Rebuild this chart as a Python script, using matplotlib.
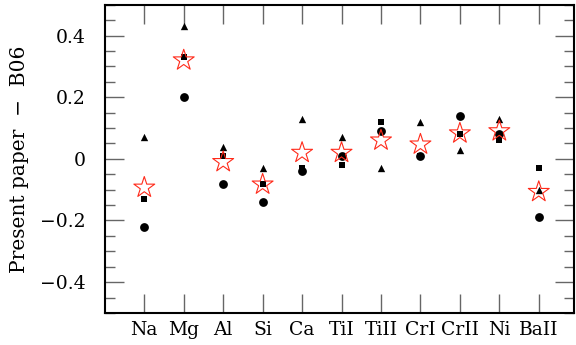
import matplotlib
matplotlib.use("Agg")
import matplotlib.pyplot as plt
from matplotlib.ticker import MultipleLocator

elements = ["Na", "Mg", "Al", "Si", "Ca", "TiI", "TiII", "CrI", "CrII", "Ni", "BaII"]
diff_circle = [-0.22, 0.20, -0.08, -0.14, -0.04, 0.01, 0.09, 0.01, 0.14, 0.08, -0.19]
diff_square = [-0.13, 0.33, 0.01, -0.08, -0.03, -0.02, 0.12, 0.01, 0.08, 0.06, -0.03]
diff_triangle = [0.07, 0.43, 0.04, -0.03, 0.13, 0.07, -0.03, 0.12, 0.03, 0.13, -0.10]
diff_mean = [-0.093, 0.32, -0.01, -0.083, 0.02, 0.02, 0.06, 0.047, 0.083, 0.09, -0.107]

plt.rcParams["font.family"] = ["DejaVu Serif"]

fig = plt.figure(figsize=(5.76, 3.45), dpi=100)
ax = fig.add_axes([0.182, 0.093, 0.815, 0.893])

x = list(range(1, len(elements) + 1))
ax.scatter(x, diff_square, marker="s", s=22, color="black", zorder=3, linewidths=0)
ax.scatter(x, diff_circle, marker="o", s=40, color="black", zorder=4, linewidths=0)
ax.scatter(x, diff_triangle, marker="^", s=28, color="black", zorder=5, linewidths=0)
ax.scatter(x, diff_mean, marker="*", s=250, facecolors="none", edgecolors="#ff2a1a",
           linewidths=0.8, zorder=6)

ax.set_xlim(0, 11.9)
ax.set_ylim(-0.5, 0.5)
ax.set_xticks(x)
ax.set_xticklabels(elements)
ax.yaxis.set_minor_locator(MultipleLocator(0.05))
ax.set_yticks([-0.4, -0.2, 0, 0.2, 0.4])
ax.set_yticklabels(["\u22120.4", "\u22120.2", "0", "0.2", "0.4"])

ax.tick_params(axis="both", which="major", direction="in", top=True, right=True,
               length=14, width=1.0, color="#666666", labelsize=13.5)
ax.tick_params(axis="x", which="major", pad=6)
ax.tick_params(axis="y", which="major", pad=14)
ax.tick_params(axis="y", which="minor", direction="in", right=True, length=7,
               width=1.0, color="#666666")
ax.tick_params(axis="x", which="minor", bottom=False, top=False)

for sp in ax.spines.values():
    sp.set_linewidth(1.5)

ax.set_ylabel("Present paper  \u2212  B06", fontsize=14.5, labelpad=8)

fig.savefig("out.png", dpi=100)
